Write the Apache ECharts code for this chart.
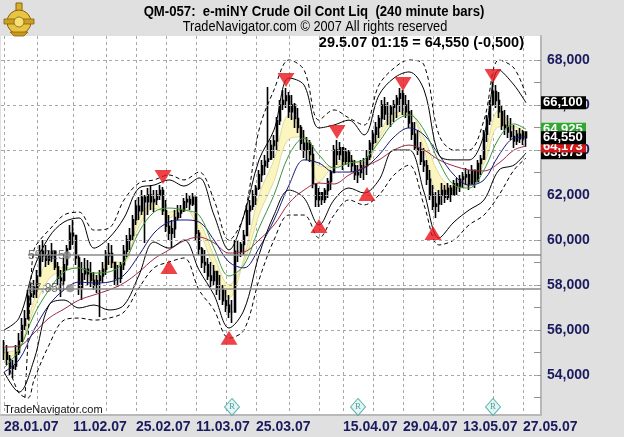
<!DOCTYPE html>
<html><head><meta charset="utf-8">
<script src="https://cdn.jsdelivr.net/npm/echarts@6/dist/echarts.min.js"></script>
<style>html,body{margin:0;padding:0;background:#e0e0e0}#c{width:624px;height:437px}</style>
</head><body><div id="c"></div>
<script>
// ---- price bars (240 minute bars), one per index ----
const highs = [
55560,55330,54890,54670,55330,55870,56530,56890,57780,58090,
58220,58670,59780,60000,59780,59560,59870,59330,59020,58670,
59200,59780,60670,60890,60220,59330,59020,59200,59110,59020,
58580,58440,58670,59020,59560,59870,59780,59020,58890,59020,
59780,60220,60530,61110,61780,61910,62220,62000,62310,62440,
62220,62220,62440,62360,61780,61110,60890,61330,61560,61560,
61870,62090,62000,62090,61780,60440,59690,59560,59200,59020,
58890,58580,58440,58000,57780,57560,57330,60000,60000,59910,
60440,61560,61780,62220,62440,63110,63560,63780,66800,64440,
64670,65470,66220,66670,66760,66580,66440,66090,65870,65110,
64890,64580,64440,64220,62530,62310,62090,62310,62760,63110,
64220,64440,64360,64000,64090,64000,63780,63560,63330,63560,
63640,64000,64440,64890,65240,65560,66220,66360,66130,66000,
66220,66440,66760,66670,66440,66220,65780,65240,64890,64360,
64090,63560,63110,62440,62130,62220,62530,62440,62530,62440,
62670,62760,62890,63020,63200,63110,63330,63110,63560,63780,
64890,65560,66220,67020,66890,66580,66000,65780,65560,65420,
65110,64890,64980,64890,64760];
const lows = [
54670,54440,54000,53870,54220,54890,55560,56000,56670,57110,
57420,57420,58580,59020,58800,58890,59020,58670,58000,57470,
58000,58670,59560,59780,58890,57560,57330,58220,58000,57910,
57780,57640,56580,58090,58440,58890,58760,58000,57910,58090,
58670,59240,59560,60000,60670,60890,61110,59870,61110,61330,
61240,61560,61780,61110,60360,60000,59690,60090,60890,60980,
61240,61420,61330,61510,60000,59330,58760,58530,58220,57910,
58000,57560,57330,57110,56800,56530,56310,58760,59020,59240,
59330,60220,60670,61330,61560,62220,62580,62890,63200,63560,
63640,64000,65110,65780,65870,65420,65330,64980,64760,64000,
63640,63560,63470,62300,61470,61470,61560,61640,61870,62220,
63020,63330,63560,63110,63330,63240,63020,62670,62530,62760,
62670,62890,63560,64000,64310,64530,65020,65330,65110,65020,
65240,65420,65690,65560,65420,64980,64440,64000,63780,63330,
63020,62440,61780,61330,60980,61240,61560,61640,61780,61690,
62000,62000,62130,62310,62440,62220,62580,62310,62760,62890,
63560,64360,65110,66000,65870,65420,64890,64670,64530,64440,
64090,64220,64310,64220,64130];
const closes = [
55000,54700,54300,54400,55000,55500,56200,56500,57500,57600,
57900,58400,59500,59300,59100,59300,59500,58800,58300,58200,
58900,59600,60300,60200,59200,57900,58500,58700,58500,58200,
58000,58200,58400,58700,59300,59400,59000,58300,58300,58900,
59500,60000,60200,60900,61500,61300,61900,61700,62000,61700,
61800,62000,62200,61300,60600,60300,60500,61000,61200,61300,
61700,61800,61600,61900,60300,59600,59000,58900,58400,58200,
58600,57800,57800,57300,57100,56800,56800,59500,59500,59800,
60200,61300,61500,62000,62300,62900,63300,63500,63600,64200,
64400,65300,66000,66200,66400,65700,66000,65400,65000,64300,
64000,64300,63800,62500,61800,62100,61800,62200,62600,63000,
64000,63800,64100,63500,63900,63500,63300,62900,63000,63300,
63300,63700,64300,64700,65000,65400,66000,65600,65600,65900,
66000,66300,66500,66000,65700,65200,64700,64100,64000,63500,
63300,62700,62000,61500,61600,62000,62200,61900,62300,62000,
62500,62400,62700,62800,62900,62500,63100,62600,63400,63600,
64700,65300,66000,66600,66200,65700,65100,65000,64800,64600,
64400,64700,64500,64800,64550];

// ---- indicator lines, read at these bar indices ----
const sampleBars = [0,5,10,15,20,25,30,35,40,45,50,55,60,65,70,75,80,85,90,95,100,105,110,115,120,125,130,135,140,145,150,155,160,165,170,174];
const maroonMA = [55240,55290,55870,56530,56930,57330,57560,57780,58090,58580,59160,59560,59960,60130,59870,59420,59470,60000,60670,61640,62220,62530,62490,62890,63240,63560,64000,64220,64000,63560,63290,63110,63070,63420,64000,64173];
const greenMA = [54310,55110,56670,57780,58580,58760,58530,58580,59020,60360,61240,61420,61330,61110,59640,58400,58890,60530,62000,63780,64530,63780,63200,63420,63560,64360,65240,65560,64890,63470,62440,62310,63110,64530,65160,64925];
const navyMA = [54130,54670,56000,57110,57780,58130,58090,58130,58440,59330,60310,60800,60890,60800,60000,59020,58760,59640,60890,62440,63560,63420,63020,63020,63200,63780,64580,64980,64670,63780,62890,62440,62670,63780,64530,64580];
const fastA = [55020,55200,57330,59020,58760,58760,58220,59020,59020,60980,61640,60980,61420,60440,58760,57420,59200,62000,63560,65560,64670,62580,63330,63640,63200,64670,65640,65690,64000,62130,62220,62580,63780,65780,64890,64530];
const fastB = [54600,55150,56930,58280,58650,58760,58410,58760,59020,60600,61400,61240,61370,60840,59290,58010,59010,61120,62620,64490,64590,63300,63250,63510,63420,64490,65400,65610,64530,62930,62350,62420,63380,65030,65050,64770];
const upperSolid = [56000,56530,58760,60130,60800,60980,59640,60090,60980,62310,62440,62670,62400,62760,61110,59560,61110,63560,64890,67200,66890,64980,65110,65330,64670,66440,67200,67470,66670,63780,63560,63560,64670,67560,66890,66100];
const lowerSolid = [54130,53240,54670,57110,57330,56980,57110,56890,57110,58440,59910,59640,60000,58670,57560,56090,56890,59330,61110,62220,61870,60670,61780,62310,62090,62670,64000,64000,62130,60090,60800,61330,61780,63110,63330,63873];
// dashed band starts later (warm-up)
const upperDashedBars = [7,8,9,10,12,15,20,25,30,35,40,45,50,55,60,65,70,75,80,85,90,95,100,105,110,115,120,125,130,135,140,145,150,155,160,165,170,174];
const upperDashed = [52980,55560,58220,59560,60000,60440,61110,61240,60440,60530,61780,62530,62670,62890,62670,63020,61780,60000,61110,64890,66670,68000,67560,65330,65780,65420,65110,66890,67640,68000,67780,64670,64000,64000,65330,68000,67640,66440];
const lowerDashedBars = [2,5,8,10,15,20,25,30,35,40,45,50,55,60,65,70,75,80,85,90,95,100,105,110,115,120,125,130,135,140,145,150,155,160,165,170,174];
const lowerDashed = [54220,53200,52980,53780,55330,56440,56530,56440,56530,56800,57870,58760,59020,59200,57780,56890,55640,56000,58220,60000,61110,61110,60090,61110,61780,61560,62000,62890,63330,61560,59780,60000,60670,61110,62000,63110,63640];

// ---- signals ----
const peakBars = [53,94,111,133,163];
const peakVals = [62800,67110,64800,66930,67290];
const troughBars = [55,75,105,121,143];
const troughVals = [58800,55650,60620,62040,60310];
const rBars = [76,118,163];
const rVal = 52580;

// ---- horizontal levels ----
const levelVals = [59325,57850];
const levelTexts = ['59,325','57,850'];
const levelStartBar = 8;
const levelDotBars = [21,22];

// ---- axes / texts ----
const weekBars = [0,11,23,34,44,54,64,74,84,95,105,113,123,133,143,153,163,173];
const weekLabels = ['28.01.07','04.02.07','11.02.07','18.02.07','25.02.07','04.03.07','11.03.07','18.03.07','25.03.07','01.04.07','08.04.07','15.04.07','22.04.07','29.04.07','06.05.07','13.05.07','20.05.07','27.05.07'];
const shownWeekLabels = ['28.01.07','11.02.07','25.02.07','11.03.07','25.03.07','15.04.07','29.04.07','13.05.07','27.05.07'];
const yLabelVals = [54000,56000,58000,60000,62000,64000,66000,68000];
const yTickVals = [53000,54000,55000,56000,57000,58000,59000,60000,61000,62000,63000,64000,65000,66000,67000,68000];
const tagVals = [63873,64173,64925,64550,66100];
const tagColors = ['#000000','#d01818','#2ea82e','#000000','#000000'];
const titleText = 'QM-057:  e-miNY Crude Oil Cont Liq  (240 minute bars)';
const subText = 'TradeNavigator.com © 2007 All rights reserved';
const headerText = '29.5.07 01:15 = 64,550 (-0,500)';
const footText = 'TradeNavigator.com';

// ---- build ----
const N_CAT = 181;
const cats = []; for (let i = 0; i < N_CAT; i++) cats.push(String(i));
const toCat = b => b + 1;
const weekCatSet = new Set(weekBars.map(toCat));
const labelByCat = {};
weekBars.forEach((b, k) => { if (shownWeekLabels.includes(weekLabels[k])) labelByCat[toCat(b)] = weekLabels[k]; });
const fmt = v => { const s = String(Math.round(v)); return s.slice(0, s.length - 3) + ',' + s.slice(-3); };

const candle = ['-'];
for (let i = 0; i < highs.length; i++) {
  const open = i === 0 ? closes[0] : closes[i - 1];
  candle.push([open, closes[i], lows[i], highs[i]]);
}
const pts = (arr, bars) => (bars || sampleBars).map((b, k) => [toCat(b), arr[k]]);
const diff = sampleBars.map((b, k) => [toCat(b), fastA[k] - fastB[k]]);

const chart = echarts.init(document.getElementById('c'), null, {renderer: 'canvas'});
const lineS = (name, arr, color, type, bars) => ({
  name, type: 'line', data: pts(arr, bars), smooth: 0.35, showSymbol: false, z: 4, silent: true,
  lineStyle: {color, width: 1, type: type || 'solid'}
});
const SANS = "'Liberation Sans',Arial,sans-serif";

chart.setOption({
  animation: false,
  backgroundColor: '#e0e0e0',
  grid: {left: 1, right: 83, top: 36, bottom: 22, show: true, backgroundColor: '#ffffff', borderWidth: 0},
  xAxis: {
    type: 'category', data: cats, boundaryGap: false,
    axisLine: {show: true, lineStyle: {color: '#b8b8b8', width: 2}},
    axisTick: {show: false},
    axisLabel: {
      interval: (i) => labelByCat[i] !== undefined,
      formatter: (v, i) => labelByCat[i] || '',
      align: 'left', margin: 5, color: '#1a1a5e', fontWeight: 'bold', fontSize: 14,
      fontFamily: SANS, hideOverlap: false
    },
    splitLine: {show: true, interval: (i) => weekCatSet.has(i), lineStyle: {color: '#a8a8a8', type: [3, 3], width: 1}}
  },
  yAxis: {
    type: 'value', position: 'right', min: 52222, max: 69067, scale: true,
    axisLine: {show: true, lineStyle: {color: '#b8b8b8', width: 2}},
    axisTick: {show: true, inside: true, length: 7, customValues: yTickVals, lineStyle: {color: '#909090'}},
    axisLabel: {customValues: yLabelVals, formatter: v => fmt(v), margin: 6, color: '#1a1a5e', fontWeight: 'bold', fontSize: 14, fontFamily: SANS},
    splitLine: {show: false}
  },
  series: [
    {type: 'line', name: 'hgrid', data: [], z: 1, silent: true,
     markLine: {silent: true, symbol: ['none', 'none'], animation: false, label: {show: false},
       lineStyle: {color: '#a8a8a8', type: [3, 3], width: 1},
       data: yLabelVals.map(v => ({yAxis: v}))}},
    {type: 'line', name: 'levels', data: [], z: 2, silent: true,
     markLine: {silent: true, symbol: ['none', 'none'], animation: false, label: {show: false},
       lineStyle: {color: '#8a8a8a', type: 'solid', width: 1.5},
       data: levelVals.map(v => [{coord: [toCat(levelStartBar), v]}, {coord: [N_CAT - 1, v]}])}},
    {type: 'line', name: 'bandBase', data: pts(fastB), stack: 'band', stackStrategy: 'all', smooth: 0.35, showSymbol: false, z: 2, silent: true,
     lineStyle: {color: '#e0dc98', width: 1}},
    {type: 'line', name: 'band', data: diff, stack: 'band', stackStrategy: 'all', smooth: 0.35, showSymbol: false, z: 2, silent: true,
     lineStyle: {color: '#e0dc98', width: 1}, areaStyle: {color: '#fbf6c0', opacity: 1}},
    {type: 'candlestick', name: 'QM', data: candle, barWidth: 2, z: 3, silent: true,
     itemStyle: {color: '#000', color0: '#000', borderColor: '#000', borderColor0: '#000', borderWidth: 1.6}},
    lineS('maroon', maroonMA, '#9a2a44'),
    lineS('navy', navyMA, '#16167a'),
    lineS('green', greenMA, '#3a943a'),
    lineS('upperSolid', upperSolid, '#000'),
    lineS('lowerSolid', lowerSolid, '#000'),
    lineS('upperDashed', upperDashed, '#000', [4, 3], upperDashedBars),
    lineS('lowerDashed', lowerDashed, '#000', [4, 3], lowerDashedBars),
    {type: 'scatter', name: 'peaks', data: peakBars.map((b, k) => [toCat(b), peakVals[k]]), symbol: 'triangle', symbolRotate: 180, symbolSize: [17, 14], z: 6, silent: true,
     itemStyle: {color: '#e8141a'}},
    {type: 'scatter', name: 'troughs', data: troughBars.map((b, k) => [toCat(b), troughVals[k]]), symbol: 'triangle', symbolSize: [17, 14], z: 6, silent: true,
     itemStyle: {color: '#e8141a'}},
    {type: 'scatter', name: 'levelDots', data: levelDotBars.map((b, k) => [toCat(b), levelVals[k]]), symbol: 'circle', symbolSize: 8, z: 6, silent: true,
     itemStyle: {color: '#8a8a8a'}},
    {type: 'scatter', name: 'levelLabels', data: levelVals.map((v, k) => [toCat(levelStartBar), v, levelTexts[k]]), symbolSize: 0, z: 7, silent: true,
     label: {show: true, position: 'right', distance: 0, formatter: p => p.data[2], color: '#555', fontSize: 12, fontFamily: SANS}},
    {type: 'scatter', name: 'R', data: rBars.map(b => [toCat(b), rVal]), symbol: 'diamond', symbolSize: [15, 17], z: 6, silent: true,
     itemStyle: {color: '#dcf4f0', borderColor: '#3aa0a0', borderWidth: 1},
     label: {show: true, position: 'inside', formatter: 'R', color: '#2a8a8a', fontSize: 9, fontFamily: "'Liberation Serif',serif"}}
  ]
});

// tags on the price axis + texts + logo
const g = [];
tagVals.forEach((v, i) => {
  const y = chart.convertToPixel({yAxisIndex: 0}, v);
  g.push({type: 'rect', shape: {x: 541, y: y - 6.5, width: 45, height: 13}, style: {fill: tagColors[i]}, z: 100 + 2 * i});
  g.push({type: 'text', x: 543, y: y, style: {text: fmt(v), fill: '#fff', font: "bold 13px " + SANS, verticalAlign: 'middle'}, z: 101 + 2 * i});
});
g.push({type: 'text', x: 314, y: 12, scaleX: 0.94, style: {text: titleText, fill: '#000', align: 'center', verticalAlign: 'middle', font: "bold 14px " + SANS}, z: 50});
g.push({type: 'text', x: 315, y: 27, scaleX: 0.91, style: {text: subText, fill: '#000', align: 'center', verticalAlign: 'middle', font: "14px " + SANS}, z: 50});
g.push({type: 'text', x: 524, y: 43, style: {text: headerText, fill: '#000', align: 'right', verticalAlign: 'middle', font: "bold 14.5px " + SANS}, z: 50});
g.push({type: 'text', x: 4, y: 410, style: {text: footText, fill: '#111', verticalAlign: 'middle', font: "11px " + SANS}, z: 50});
g.push({type: 'group', x: 19, y: 19, z: 60, children: [
  {type: 'rect', shape: {x: -3, y: -16, width: 6, height: 14}, style: {fill: '#d8b030', stroke: '#8a6008', lineWidth: 1}},
  {type: 'circle', shape: {cx: 0, cy: 3, r: 12}, style: {fill: '#e8c444', stroke: '#8a6008', lineWidth: 1}},
  {type: 'rect', shape: {x: -15, y: 0, width: 30, height: 5}, style: {fill: '#caa024', stroke: '#8a6008', lineWidth: 0.8}},
  {type: 'circle', shape: {cx: 0, cy: 3, r: 5}, style: {fill: '#f6e07a', stroke: '#8a6008', lineWidth: 0.8}},
  {type: 'polygon', shape: {points: [[-9, 13], [9, 13], [5, 17], [-5, 17]]}, style: {fill: '#c89a20', stroke: '#8a6008', lineWidth: 0.8}}
]});
chart.setOption({graphic: g});
</script></body></html>
